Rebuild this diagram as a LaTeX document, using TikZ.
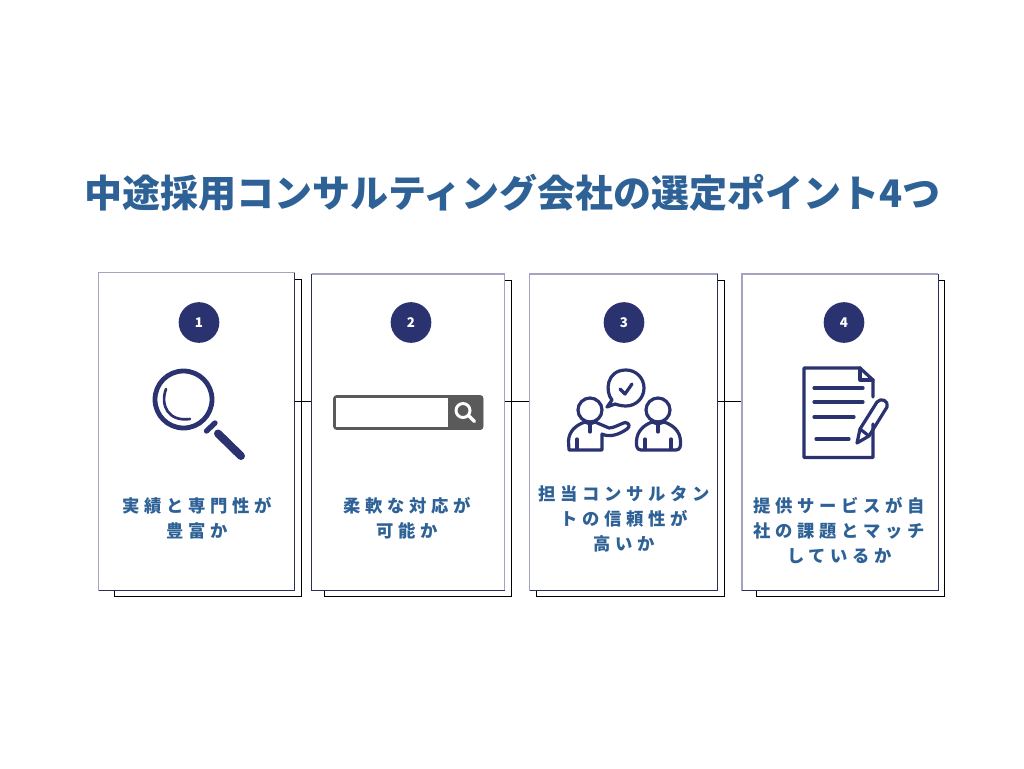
\documentclass[tikz,border=0pt]{standalone}
\usepackage{fontspec}
\newfontfamily\cjkcard[LetterSpace=27]{Noto Sans CJK JP}
\newfontfamily\cjktitle{Noto Sans CJK JP}
\definecolor{navy}{HTML}{2B3270}
\definecolor{textblue}{HTML}{2E6296}
\definecolor{lav}{HTML}{A4A4C0}
\definecolor{dk}{HTML}{2A2F55}
\definecolor{sgray}{HTML}{5A5A5A}
\tikzset{
  x=0.75pt,y=-0.75pt,
  shadowbox/.style={draw=black,line width=0.65pt,fill=white},
  cardedge/.style={draw=dk,line width=0.6pt},
  lightedge/.style={draw=lav,line width=0.85pt},
  link/.style={draw=black,line width=0.6pt},
  badge/.style={circle,fill=navy,text=white,inner sep=0pt,minimum size=30.5pt,font=\cjktitle\bfseries\fontsize{10}{12}\selectfont},
  cardtext/.style={text=textblue,align=center,font=\cjkcard\bfseries\fontsize{13}{18.75}\selectfont,inner sep=0pt},
  icon/.style={draw=navy,line width=2.4pt,line cap=round,line join=round},
  cardarea/.style={draw=none,inner sep=0pt,outer sep=0pt}
}
\begin{document}
\begin{tikzpicture}
\useasboundingbox (0,0) rectangle (1024,768);
\fill[white] (0,0) rectangle (1024,768);
\node[text=textblue,font=\cjktitle\bfseries\fontsize{28.5}{32}\selectfont,inner sep=0pt] (title) at (512.5,193) {中途採用コンサルティング会社の選定ポイント4つ};
% shadows
\draw[shadowbox] (114,279.5) rectangle (301.3,596.7);
\draw[shadowbox] (324,280) rectangle (511.3,596.7);
\draw[shadowbox] (536,280) rectangle (724,596.7);
\draw[shadowbox] (756,280) rectangle (944,596.7);
% cards
\node[cardarea,fill=white,minimum width=147pt,minimum height=238.5pt] (c1) at (196.5,431.5) {};
\node[cardarea,fill=white,minimum width=144.75pt,minimum height=237.4pt] (c2) at (408,432.25) {};
\node[cardarea,fill=white,minimum width=141pt,minimum height=237.4pt] (c3) at (623.5,432.25) {};
\node[cardarea,fill=white,minimum width=147pt,minimum height=237.4pt] (c4) at (840,432.25) {};
% connectors
\draw[link] (c1.east |- 0,401) -- (c2.west |- 0,401);
\draw[link] (c2.east |- 0,401) -- (c3.west |- 0,401);
\draw[link] (c3.east |- 0,401) -- (c4.west |- 0,401);
% card edges
\draw[lightedge] (c1.south west) -- (c1.north west) -- (c1.north east);
\draw[cardedge] (c1.north east) -- (c1.south east) -- (c1.south west);
\draw[lightedge] (c2.north west) -- (c2.north east) -- (c2.south east);
\draw[cardedge] (c2.north west) -- (c2.south west) -- (c2.south east);
\draw[lightedge] (c3.south west) -- (c3.north west) -- (c3.north east);
\draw[cardedge] (c3.north east) -- (c3.south east) -- (c3.south west);
\draw[lightedge] (c4.south west) -- (c4.north west) -- (c4.north east);
\draw[cardedge] (c4.north east) -- (c4.south east) -- (c4.south west);
% badges
\node[badge] (b1) at (199,322.5) {1};
\node[badge] (b2) at (411,322.5) {2};
\node[badge] (b3) at (624,322.5) {3};
\node[badge] (b4) at (844,322.5) {4};
% icon 1
\draw[draw=navy,line width=3.6pt] (183.5,399.5) circle (28.5);
\draw[draw=navy,line width=2pt,line cap=round] (166,389) .. controls (160,405) and (168,422) .. (190,419);
\draw[draw=navy,line width=4pt,line cap=round] (206.5,431) -- (215,423);
\draw[draw=navy,line width=6pt,line cap=round] (218,433.5) -- (241,456);
% icon 2
\draw[draw=sgray,line width=1.9pt,rounded corners=1.5pt,fill=white] (334.5,396.5) rectangle (482,428.5);
\fill[sgray,rounded corners=1.5pt] (448,395.5) rectangle (483,429.5);
\draw[draw=white,line width=2.2pt] (463,410.5) circle (7);
\draw[draw=white,line width=2.4pt,line cap=round] (469,416) -- (474.5,421.5);
% icon 3
\begin{scope}[icon]
\draw (590,410) circle (12);
\draw (658,410) circle (12);
\draw (569,450) -- (568.5,441) .. controls (569,431) and (576,425) .. (585,422) -- (590,424) -- (595,422) -- (609,428) .. controls (614,428) and (620,424) .. (625,422.5) .. controls (630,423) and (630,427) .. (627,429) .. controls (620,434) and (610,438) .. (602,434) -- (602,450) -- cycle;
\draw (577,439) -- (577,449);
\draw (590,422) -- (590,432);
\draw (636.5,441) .. controls (637,431) and (644,425) .. (652,422) -- (658,424) -- (664,422) .. controls (673,425) and (680,431) .. (680.5,441) .. controls (681,446) and (680,450) .. (676,450) -- (641,450) .. controls (637,450) and (636,446) .. (636.5,441) -- cycle;
\draw (645,439) -- (645,449);
\draw (671,439) -- (671,449);
\draw (658,422) -- (658,432);
\draw (607,407) -- (612,400) .. controls (605,392) and (606,370) .. (626,370) .. controls (636,370) and (644,378) .. (644,388) .. controls (644,398) and (636,406) .. (626,406) .. controls (622,406) and (618,405) .. (615,404) -- cycle;
\draw (620,389) -- (625,394) -- (632,384);
\end{scope}
% icon 4
\begin{scope}[icon]
\draw (873,424) -- (873,457.5) -- (804,457.5) -- (804,368) -- (860,368) -- (873,380) -- (873,397);
\draw (860,368) -- (860,380) -- (873,380);
\draw (814,388) -- (863,388);
\draw (814,402) -- (863,402);
\draw (814,417) -- (854,417);
\draw (816,439) -- (849,439);
\draw (857,443) -- (860,429) -- (877,402) .. controls (881,397) and (889,401) .. (887,407) -- (869,436) -- cycle;
\draw (860,429) -- (869,436);
\end{scope}
% labels
\node[cardtext] (t1) at (197,518.5) {実績と専門性が\\豊富か};
\node[cardtext] (t2) at (407.5,518.5) {柔軟な対応が\\可能か};
\node[cardtext] (t3) at (624.5,518.5) {担当コンサルタン\\トの信頼性が\\高いか};
\node[cardtext] (t4) at (839.5,531) {提供サービスが自\\社の課題とマッチ\\しているか};
\end{tikzpicture}
\end{document}
